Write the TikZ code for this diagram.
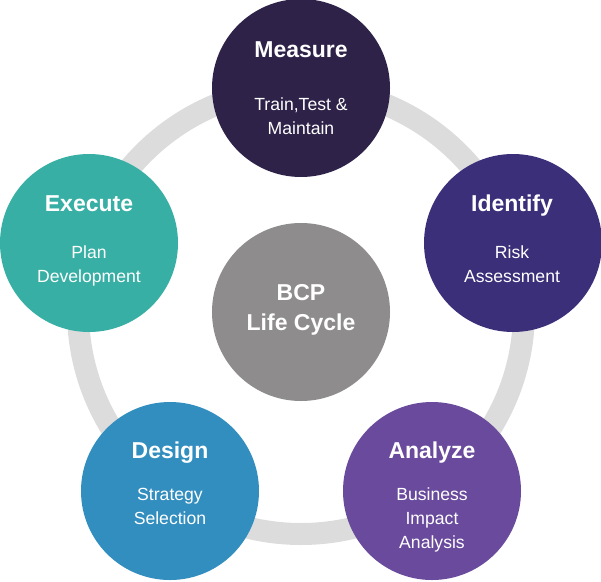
\documentclass[tikz,border=0pt]{standalone}
\usepackage{fontspec}
\setmainfont{Liberation Sans}
\definecolor{ringgray}{HTML}{DCDCDC}
\definecolor{cmeasure}{HTML}{2E2249}
\definecolor{cidentify}{HTML}{3B2F7A}
\definecolor{canalyze}{HTML}{6A4A9C}
\definecolor{cdesign}{HTML}{318EBF}
\definecolor{cexecute}{HTML}{38AFA5}
\definecolor{ccenter}{HTML}{8E8C8D}
\begin{document}
\begin{tikzpicture}[x=1pt,y=-1pt,
  stage/.style={circle, minimum size=178pt, inner sep=0pt, draw=none},
  ttl/.style={anchor=base, text=white, font=\fontsize{23}{27}\selectfont\bfseries, inner sep=0pt},
  sub/.style={anchor=base, text=white, font=\fontsize{17.6}{21}\selectfont, inner sep=0pt}]
\useasboundingbox (0,0) rectangle (601,581);
\draw[ringgray, line width=22pt] (301,311) circle[radius=223];
\node[stage, fill=cmeasure] (measure) at (301,88) {};
\node[stage, fill=cidentify] (identify) at (513,243) {};
\node[stage, fill=canalyze] (analyze) at (432,491) {};
\node[stage, fill=cdesign] (design) at (170,491) {};
\node[stage, fill=cexecute] (execute) at (89,243) {};
\node[stage, fill=ccenter] (bcp) at (301,312) {};
% Measure
\node[ttl] (mt) at (301,57) {Measure};
\node[sub] (m1) at (301,110) {Train,Test \&};
\node[sub] (m2) at (301,134) {Maintain};
% Identify
\node[ttl] (it) at (512,211) {Identify};
\node[sub] (i1) at (512,258) {Risk};
\node[sub] (i2) at (512,282) {Assessment};
% Execute
\node[ttl] (et) at (89,211) {Execute};
\node[sub] (e1) at (89,258) {Plan};
\node[sub] (e2) at (89,282) {Development};
% Design
\node[ttl] (dt) at (170,458) {Design};
\node[sub] (d1) at (170,500) {Strategy};
\node[sub] (d2) at (170,524) {Selection};
% Analyze
\node[ttl] (at) at (432,458) {Analyze};
\node[sub] (a1) at (432,500) {Business};
\node[sub] (a2) at (432,524) {Impact};
\node[sub] (a3) at (432,548) {Analysis};
% Center
\node[ttl] (c1) at (301,300) {BCP};
\node[ttl] (c2) at (301,330) {Life Cycle};
\end{tikzpicture}
\end{document}
